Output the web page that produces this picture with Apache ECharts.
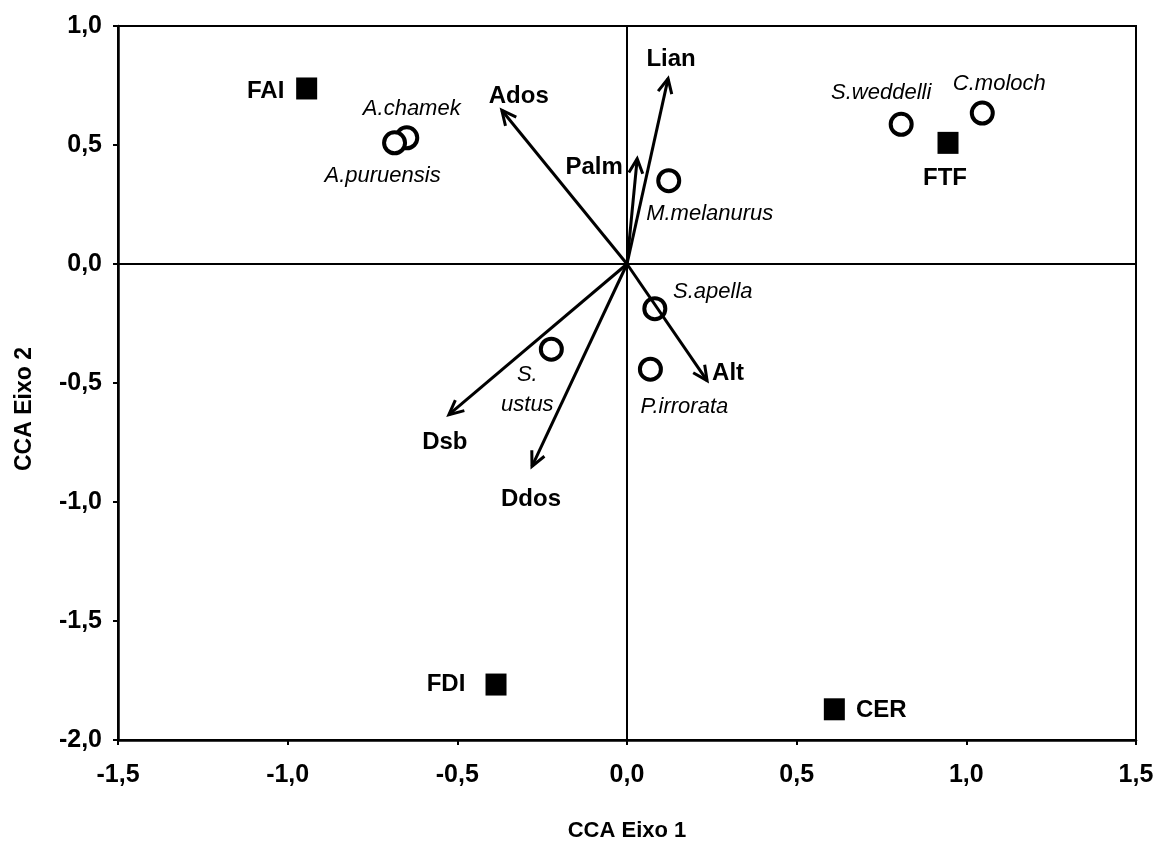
<!DOCTYPE html>
<html>
<head>
<meta charset="utf-8">
<script src="https://cdn.jsdelivr.net/npm/echarts@6/dist/echarts.min.js"></script>
<style>
html,body{margin:0;padding:0;background:#fff;}
#chart{width:1159px;height:847px;}
</style>
</head>
<body>
<div id="chart"></div>
<script>
// ---- data ----
const speciesNames = ['A.chamek','A.puruensis','M.melanurus','S.weddelli','C.moloch','S.apella','S.\nustus','P.irrorata'];
const speciesX = [-0.649,-0.685,0.123,0.808,1.047,0.082,-0.223,0.069];
const speciesY = [0.53,0.509,0.35,0.587,0.634,-0.1875,-0.358,-0.442];

const siteNames = ['FAI','FTF','FDI','CER'];
const siteX = [-0.944,0.946,-0.386,0.611];
const siteY = [0.7375,0.509,-1.767,-1.871];

const varNames = ['Ados','Lian','Palm','Dsb','Ddos','Alt'];
const varX = [-0.369,0.121,0.03,-0.525,-0.28,0.236];
const varY = [0.646,0.779,0.442,-0.633,-0.85,-0.49];

const xTickValues = [-1.5,-1.0,-0.5,0.0,0.5,1.0,1.5];
const yTickValues = [-2.0,-1.5,-1.0,-0.5,0.0,0.5,1.0];

// ---- label placement (styling, px offsets) ----
const speciesLabelOffset = {
  'A.chamek':[5,-29],'A.puruensis':[-12,33],'M.melanurus':[41,33],'S.weddelli':[-20,-31],
  'C.moloch':[17,-29],'S.apella':[58,-17],'S.\nustus':[-24,41],'P.irrorata':[34,38]
};
const siteLabelOffset = {'FAI':[-41,3],'FTF':[-3,36],'FDI':[-50,0],'CER':[47,1]};
const varLabelOffset = {'Ados':[17,-14],'Lian':[3,-19],'Palm':[-43,9],'Dsb':[-4,28],'Ddos':[-1,33],'Alt':[21,-7]};

const FONT = '"Liberation Sans", Arial, sans-serif';
const fmt = v => v.toFixed(1).replace('.', ',');

const chart = echarts.init(document.getElementById('chart'), null, {renderer:'canvas'});

const speciesData = speciesNames.map((n,i)=>({
  name:n, value:[speciesX[i], speciesY[i]],
  label:{show:true, formatter:n, position:'inside', offset:speciesLabelOffset[n],
    align:'center', verticalAlign:'middle', fontFamily:FONT, fontSize:22, fontStyle:'italic',
    color:'#000', opacity:1, lineHeight:30}
}));
const siteData = siteNames.map((n,i)=>({
  name:n, value:[siteX[i], siteY[i]],
  label:{show:true, formatter:n, position:'inside', offset:siteLabelOffset[n],
    align:'center', verticalAlign:'middle', fontFamily:FONT, fontSize:24, fontWeight:'bold', color:'#000', opacity:1}
}));
const varData = varNames.map((n,i)=>({name:n, value:[varX[i], varY[i]]}));

chart.setOption({
  animation:false,
  backgroundColor:'#fff',
  grid:{left:118, right:23, top:26, bottom:101, show:true, borderColor:'#000', borderWidth:2, backgroundColor:'transparent'},
  xAxis:{
    type:'value', min:-1.5, max:1.5, interval:0.5,
    name:'CCA Eixo 1', nameLocation:'middle', nameGap:80,
    nameTextStyle:{fontFamily:FONT, fontSize:22, fontWeight:'bold', color:'#000'},
    axisLine:{show:true, onZero:false, lineStyle:{color:'#000', width:2.5}},
    axisTick:{show:true, length:5, lineStyle:{color:'#000', width:2}},
    axisLabel:{formatter:fmt, margin:23, fontFamily:FONT, fontSize:25, fontWeight:'bold', color:'#000'},
    splitLine:{show:false}
  },
  yAxis:{
    type:'value', min:-2, max:1, interval:0.5,
    axisLine:{show:true, onZero:false, lineStyle:{color:'#000', width:2.5}},
    axisTick:{show:true, length:5, lineStyle:{color:'#000', width:2}},
    axisLabel:{formatter:fmt, margin:16, fontFamily:FONT, fontSize:25, fontWeight:'bold', color:'#000'},
    splitLine:{show:false}
  },
  graphic:[{
    type:'text', x:25, y:409, rotation:Math.PI/2,
    style:{text:'CCA Eixo 2', align:'center', verticalAlign:'middle', font:'bold 23px "Liberation Sans", Arial, sans-serif', fill:'#000'}
  }],
  series:[
    {
      type:'scatter', name:'zero', data:[], silent:true, z:1,
      markLine:{
        silent:true, symbol:['none','none'], label:{show:false},
        lineStyle:{color:'#000', width:2, type:'solid', opacity:1},
        data:[{xAxis:0},{yAxis:0}]
      }
    },
    {
      type:'scatter', name:'sites', data:siteData, symbol:'rect', symbolSize:[21,22],
      itemStyle:{color:'#000', opacity:1}, z:3
    },
    {
      type:'scatter', name:'species', data:speciesData, symbol:'circle', symbolSize:21,
      itemStyle:{color:'#fff', borderColor:'#000', borderWidth:4, opacity:1}, z:3
    },
    {
      type:'custom', name:'vectors', data:varData, z:5,
      renderItem:function(params, api){
        const o = api.coord([0,0]);
        const p = api.coord([api.value(0), api.value(1)]);
        const a = Math.atan2(p[1]-o[1], p[0]-o[0]);
        const h = 16, th = 0.45;
        const b1 = [p[0]-h*Math.cos(a-th), p[1]-h*Math.sin(a-th)];
        const b2 = [p[0]-h*Math.cos(a+th), p[1]-h*Math.sin(a+th)];
        const n = varNames[params.dataIndex];
        const off = varLabelOffset[n];
        return {
          type:'group',
          children:[
            {type:'line', shape:{x1:o[0], y1:o[1], x2:p[0], y2:p[1]}, style:{stroke:'#000', lineWidth:3}},
            {type:'polyline', shape:{points:[b1,p,b2]}, style:{stroke:'#000', lineWidth:3, fill:null, lineJoin:'miter'}},
            {type:'text', x:p[0]+off[0], y:p[1]+off[1],
              style:{text:n, align:'center', verticalAlign:'middle', font:'bold 24px "Liberation Sans", Arial, sans-serif', fill:'#000'}}
          ]
        };
      }
    }
  ]
});
</script>
</body>
</html>
